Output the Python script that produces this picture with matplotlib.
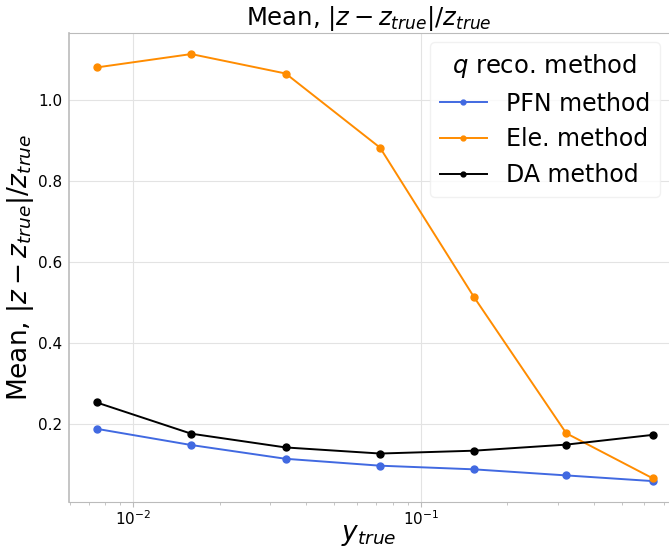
import matplotlib
matplotlib.use("Agg")
import matplotlib.pyplot as plt

# bin centres in y_true and mean relative error for each q reconstruction method
y_true = [0.00746, 0.0159, 0.0339, 0.0722, 0.153, 0.321, 0.641]
pfn_mean = [0.189, 0.149, 0.115, 0.098, 0.089, 0.074, 0.060]
ele_mean = [1.081, 1.114, 1.066, 0.883, 0.515, 0.178, 0.067]
da_mean = [0.254, 0.177, 0.143, 0.128, 0.135, 0.150, 0.174]

labels = ["PFN method", "Ele. method", "DA method"]
colors = ["royalblue", "darkorange", "black"]

fig = plt.figure(figsize=(6.69, 5.5), dpi=100)
ax = fig.add_axes([0.103, 0.087, 0.897, 0.853])

for vals, lab, col in zip([pfn_mean, ele_mean, da_mean], labels, colors):
    ax.plot(y_true, vals, color=col, marker="o", markersize=5, linewidth=1.4, label=lab)

ax.set_xscale("log")
ax.set_xlim(0.00597, 0.731)
ax.set_ylim(0.008, 1.166)
ax.set_yticks([0.2, 0.4, 0.6, 0.8, 1.0])
ax.grid(True, which="major", color="#e3e3e3", linewidth=0.8)

for side in ["left", "bottom", "top"]:
    ax.spines[side].set_color("#bbbbbb")
ax.spines["left"].set_linewidth(1.2)
ax.spines["right"].set_visible(False)
ax.tick_params(axis="y", length=0, labelsize=11, pad=5)
ax.tick_params(axis="x", which="both", color="#bbbbbb", labelsize=11, pad=2)

ax.set_title(r"Mean, $|z - z_{true}|/z_{true}$", fontsize=17.5, pad=2)
ax.set_ylabel(r"Mean, $|z - z_{true}|/z_{true}$", fontsize=19, labelpad=1)
ax.set_xlabel(r"$y_{true}$", fontsize=19, labelpad=-5)

leg = ax.legend(title=r"$q$ reco. method", fontsize=17, title_fontsize=17.5,
                loc="upper right", markerscale=0.7, handlelength=2.0,
                borderaxespad=0.4, labelspacing=0.5)
leg.get_frame().set_edgecolor("#eeeeee")

plt.savefig("out.png", dpi=100)
